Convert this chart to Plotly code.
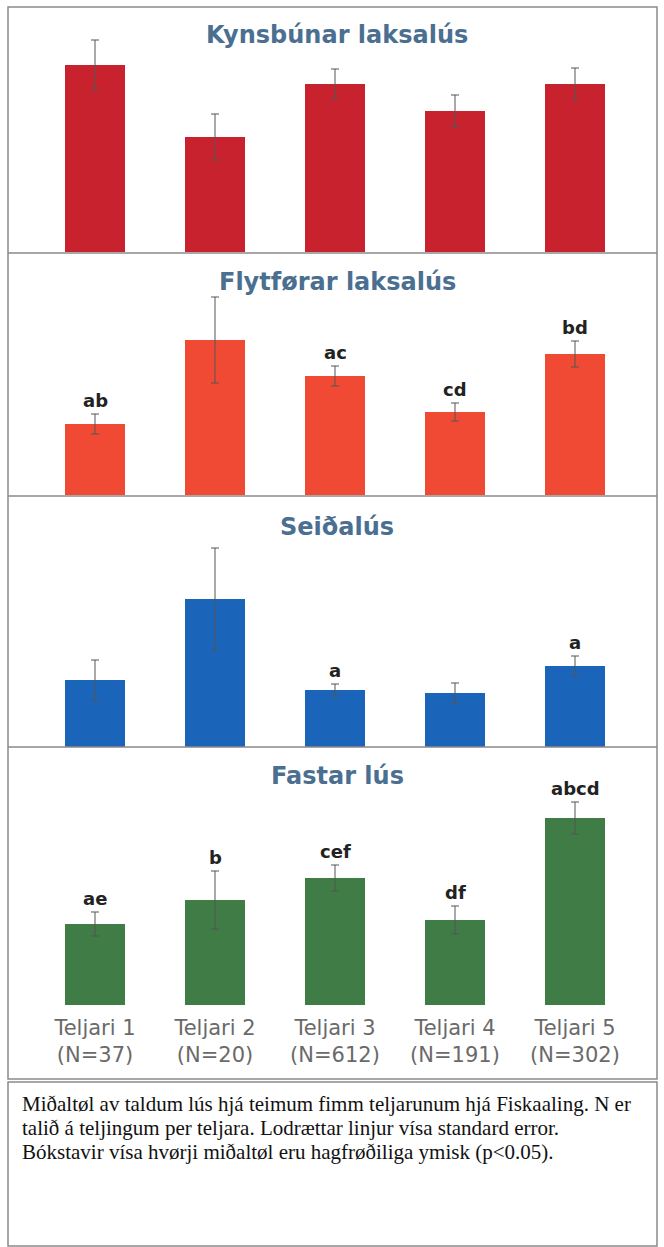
import plotly.graph_objects as go

W, H = 664, 1247

categories = ["Teljari 1<br>(N=37)", "Teljari 2<br>(N=20)", "Teljari 3<br>(N=612)",
              "Teljari 4<br>(N=191)", "Teljari 5<br>(N=302)"]

titles = ["Kynsbúnar laksalús", "Flytførar laksalús", "Seiðalús", "Fastar lús"]

kyns_vals = [187, 115, 168, 141, 168]
kyns_err = [25, 23, 15, 16, 16]
kyns_lab = ["", "", "", "", ""]

flyt_vals = [71, 155, 119, 83, 141]
flyt_err = [10, 43, 10, 9, 13]
flyt_lab = ["ab", "", "ac", "cd", "bd"]

seid_vals = [67, 148, 57, 54, 81]
seid_err = [20, 51, 6, 10, 10]
seid_lab = ["", "", "a", "", "a"]

fast_vals = [81, 105, 127, 85, 187]
fast_err = [12, 29, 13, 14, 16]
fast_lab = ["ae", "b", "cef", "df", "abcd"]

caption_lines = [
    "Miðaltøl av taldum lús hjá teimum fimm teljarunum hjá Fiskaaling. N er",
    "talið á teljingum per teljara. Lodrættar linjur vísa standard error.",
    "Bókstavir vísa hvørji miðaltøl eru hagfrøðiliga ymisk (p<0.05).",
]

series = [
    (kyns_vals, kyns_err, kyns_lab, "#C8222F"),
    (flyt_vals, flyt_err, flyt_lab, "#F04A35"),
    (seid_vals, seid_err, seid_lab, "#1A64B9"),
    (fast_vals, fast_err, fast_lab, "#3F7C46"),
]

# panel geometry in pixels: (top, baseline)
panels = [(8, 252), (253, 495), (496, 747), (748, 1005)]
title_y = [35, 282, 527, 776]
caption_y = [1104, 1128, 1152]

def py(p):
    return 1 - p / H

def px(p):
    return p / W

fig = go.Figure()
layout = dict(
    width=W, height=H,
    margin=dict(l=0, r=0, t=0, b=0),
    paper_bgcolor="white", plot_bgcolor="rgba(0,0,0,0)",
    showlegend=False,
    bargap=0.5,
)
annotations = []
shapes = []

for i, ((vals, errs, labs, col), (top, base)) in enumerate(zip(series, panels)):
    n = i + 1
    xa = "x" if n == 1 else f"x{n}"
    ya = "y" if n == 1 else f"y{n}"
    fig.add_trace(go.Bar(
        x=categories, y=vals, xaxis=xa, yaxis=ya,
        marker=dict(color=col, line=dict(width=0)),
        width=0.5,
        error_y=dict(type="data", array=errs, visible=True,
                     color="#555555", thickness=1, width=4),
    ))
    xkey = "xaxis" if n == 1 else f"xaxis{n}"
    ykey = "yaxis" if n == 1 else f"yaxis{n}"
    layout[xkey] = dict(
        domain=[px(35), px(635)], anchor=ya,
        range=[-0.5, 4.5], showgrid=False, zeroline=False, showline=False,
        ticks="", showticklabels=(n == 4), ticklabelstandoff=8,
        tickfont=dict(family="DejaVu Sans", size=21, color="#6a6a6a"),
        fixedrange=True,
    )
    if n != 1:
        layout[xkey]["matches"] = "x"
    layout[ykey] = dict(
        domain=[py(base), py(top)], anchor=xa,
        range=[0, base - top], showgrid=False, zeroline=False,
        showline=False, showticklabels=False, ticks="",
    )
    annotations.append(dict(
        text=f"<b>{titles[i]}</b>", xref="paper", yref="paper",
        x=px(337), y=py(title_y[i]), xanchor="center", yanchor="middle",
        showarrow=False, font=dict(family="DejaVu Sans", size=24, color="#4B6F91"),
    ))
    for c, v, e, lab in zip(categories, vals, errs, labs):
        if lab:
            annotations.append(dict(
                text=f"<b>{lab}</b>", xref=xa, yref=ya, x=c, y=v + e,
                xanchor="center", yanchor="bottom", yshift=1, showarrow=False,
                font=dict(family="DejaVu Sans", size=18, color="#222222"),
            ))

# frame and dividers
line_col = "#8a8a8a"
shapes.append(dict(type="rect", xref="paper", yref="paper",
                   x0=px(8), x1=px(657), y0=py(1079), y1=py(7),
                   line=dict(color=line_col, width=1.5)))
for yline in [253, 496, 747]:
    shapes.append(dict(type="line", xref="paper", yref="paper",
                       x0=px(8), x1=px(657), y0=py(yline), y1=py(yline),
                       line=dict(color=line_col, width=1.5)))
shapes.append(dict(type="rect", xref="paper", yref="paper",
                   x0=px(8), x1=px(657), y0=py(1246), y1=py(1082),
                   line=dict(color=line_col, width=1.5)))

for line, ly in zip(caption_lines, caption_y):
    annotations.append(dict(
        text=line, xref="paper", yref="paper", x=px(20), y=py(ly),
        xanchor="left", yanchor="middle", align="left", showarrow=False,
        font=dict(family="Liberation Serif", size=21, color="#111111"),
    ))

layout["annotations"] = annotations
layout["shapes"] = shapes
fig.update_layout(**layout)
fig.write_html("out.html", config={"displayModeBar": False},
               post_script="document.body.style.margin='0';")
